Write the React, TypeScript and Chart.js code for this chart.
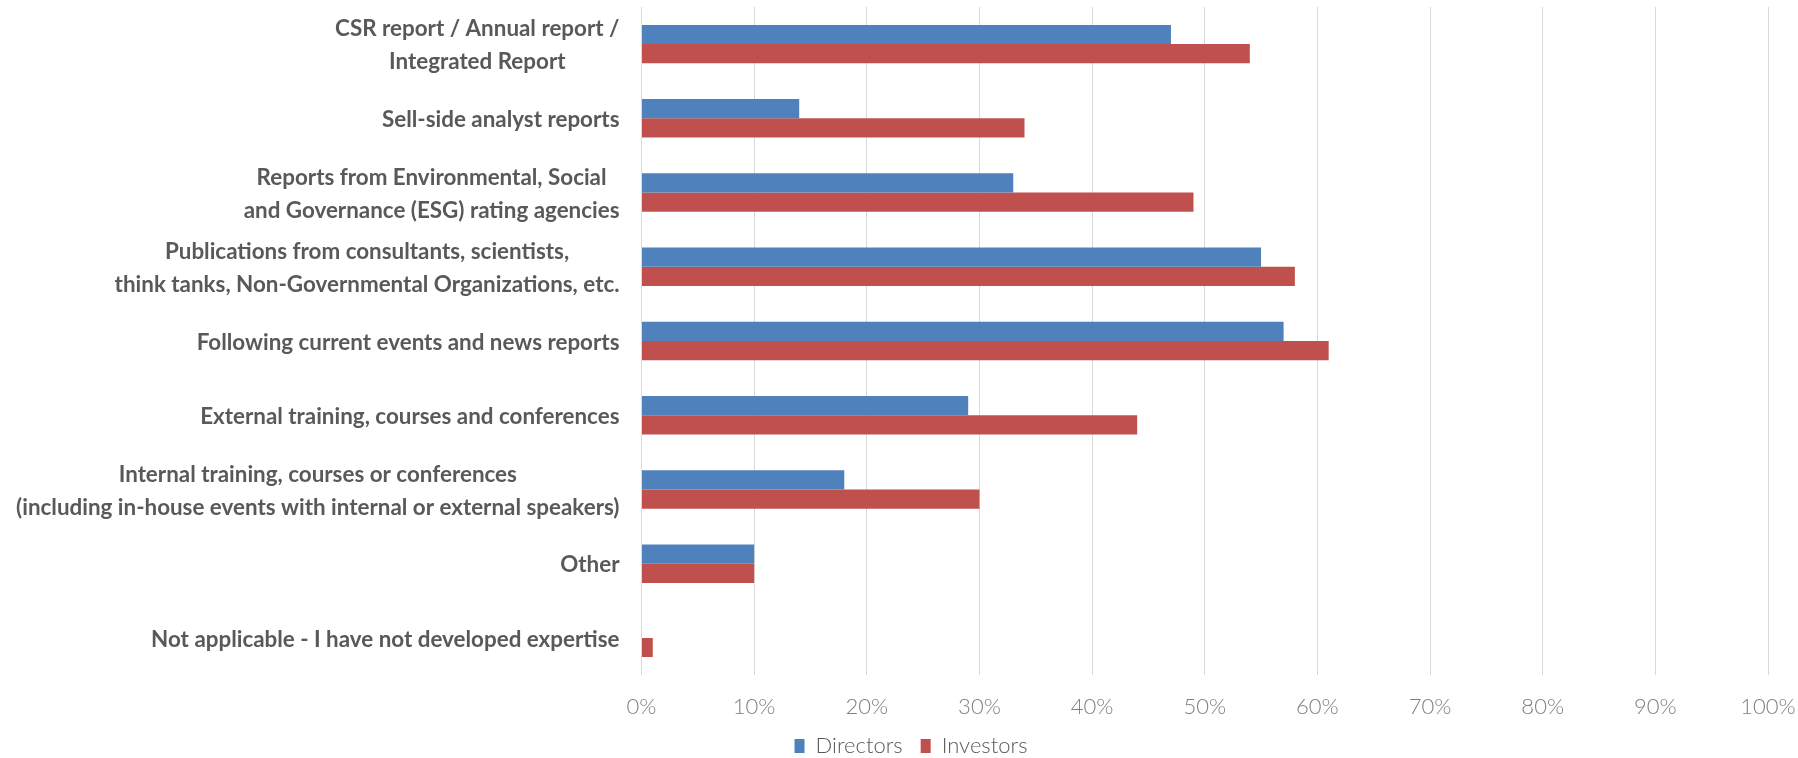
import React, { useEffect, useRef } from 'react';
import { Chart, registerables } from 'chart.js';

Chart.register(...registerables);

const categories: (string | string[])[] = [
  ['CSR report / Annual report /', 'Integrated Report'],
  'Sell-side analyst reports',
  ['Reports from Environmental, Social', 'and Governance (ESG) rating agencies'],
  ['Publications from consultants, scientists,', 'think tanks, Non-Governmental Organizations, etc.'],
  'Following current events and news reports',
  'External training, courses and conferences',
  ['Internal training, courses or conferences', '(including in-house events with internal or external speakers)'],
  'Other',
  'Not applicable - I have not developed expertise',
];

const directors = [47, 14, 33, 55, 57, 29, 18, 10, 0];
const investors = [54, 34, 49, 58, 61, 44, 30, 10, 1];

const seriesNames = ['Directors', 'Investors'];
const xMin = 0;
const xMax = 100;
const xStep = 10;

const LABEL_FONT_SIZE = 22.4;
const LABEL_LINE_GAP = 33;
const LABEL_PAD = 22;

const yLabelPlugin = {
  id: 'yBlockLabels',
  afterDraw(chart: any) {
    const { ctx } = chart;
    const y = chart.scales.y;
    ctx.save();
    ctx.font = `bold ${LABEL_FONT_SIZE}px Lato, "Open Sans", sans-serif`;
    ctx.fillStyle = '#595959';
    ctx.textAlign = 'center';
    ctx.textBaseline = 'middle';
    const right = y.right - LABEL_PAD;
    categories.forEach((cat, i) => {
      const lines = Array.isArray(cat) ? cat : [cat];
      const w = Math.max(...lines.map((l) => ctx.measureText(l).width));
      const cx = right - w / 2;
      const cy = y.getPixelForValue(i) + 1.5;
      lines.forEach((l, j) => {
        ctx.fillText(l, cx, cy + (j - (lines.length - 1) / 2) * LABEL_LINE_GAP);
      });
    });
    ctx.restore();
  },
};

export default function App() {
  const canvasRef = useRef<HTMLCanvasElement | null>(null);

  useEffect(() => {
    const canvas = canvasRef.current;
    if (!canvas) return;
    const chart = new Chart(canvas, {
      type: 'bar',
      data: {
        labels: categories.map((c) => (Array.isArray(c) ? c.join(' ') : c)),
        datasets: [
          {
            label: seriesNames[0],
            data: directors,
            backgroundColor: '#4F81BD',
            borderWidth: 0,
            categoryPercentage: 0.518,
            barPercentage: 1,
          },
          {
            label: seriesNames[1],
            data: investors,
            backgroundColor: '#C0504D',
            borderWidth: 0,
            categoryPercentage: 0.518,
            barPercentage: 1,
          },
        ],
      },
      options: {
        indexAxis: 'y',
        responsive: false,
        animation: false,
        devicePixelRatio: 1,
        layout: { padding: { left: 54, right: 30, top: 7, bottom: 0 } },
        plugins: {
          tooltip: { enabled: false },
          legend: {
            display: true,
            position: 'bottom',
            labels: {
              font: { family: 'Lato, "Open Sans", sans-serif', size: 22, weight: '300' },
              color: '#595959',
              boxWidth: 10,
              boxHeight: 14,
              padding: 18,
            },
          },
        },
        scales: {
          x: {
            min: xMin,
            max: xMax,
            ticks: {
              stepSize: xStep,
              callback: (v: any) => `${v}%`,
              font: { family: 'Lato, "Open Sans", sans-serif', size: 22, weight: '300' },
              color: '#7f7f7f',
              padding: 19,
              maxRotation: 0,
            },
            grid: { color: '#d9d9d9', lineWidth: 1, drawTicks: false },
            border: { display: false },
            afterFit: (s: any) => {
              s.height = 42;
              s.paddingLeft = 0;
              s.paddingRight = 0;
            },
          },
          y: {
            ticks: { display: false },
            grid: { display: false, drawTicks: false },
            border: { display: false },
            afterFit: (s: any) => {
              s.width = 641.5 - 54;
              s.paddingTop = 0;
              s.paddingBottom = 0;
            },
          },
        },
      },
      plugins: [yLabelPlugin],
    });
    return () => chart.destroy();
  }, []);

  return (
    <div
      style={{
        position: 'fixed',
        left: 0,
        top: 0,
        width: 1798,
        height: 758,
        overflow: 'hidden',
        background: '#ffffff',
      }}
    >
      <canvas ref={canvasRef} width={1798} height={767} style={{ display: 'block' }} />
    </div>
  );
}
